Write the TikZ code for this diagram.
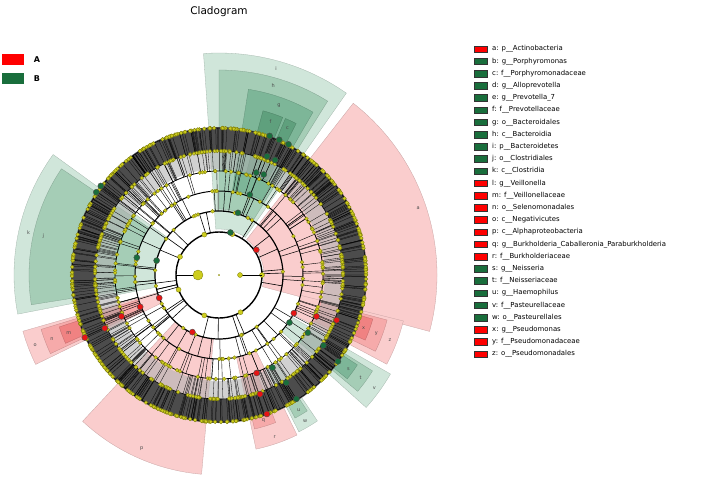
\documentclass[tikz,border=0pt]{standalone}
\usepackage{fontspec}
\setmainfont{DejaVu Sans}
\usetikzlibrary{calc}
\definecolor{pk1}{RGB}{250,205,205}
\definecolor{pk2}{RGB}{246,170,170}
\definecolor{pk3}{RGB}{240,130,130}
\definecolor{gn1}{RGB}{208,230,218}
\definecolor{gn2}{RGB}{165,205,182}
\definecolor{gn3}{RGB}{125,182,152}
\definecolor{gn4}{RGB}{95,160,125}
\definecolor{ylw}{RGB}{205,205,30}
\definecolor{olv}{RGB}{120,120,10}
\definecolor{rdn}{RGB}{230,20,20}
\definecolor{gnn}{RGB}{25,110,60}
\tikzset{
  ydot/.style={circle,fill=ylw,draw=olv,line width=0.3pt,inner sep=0pt,minimum size=3.8pt},
  rdot/.style={circle,fill=rdn,draw=black!70,line width=0.4pt,inner sep=0pt,minimum size=6pt},
  gdot/.style={circle,fill=gnn,draw=black!70,line width=0.4pt,inner sep=0pt,minimum size=6pt},
  slab/.style={font=\fontsize{5}{5}\selectfont,text=black!70,inner sep=0pt},
  leg/.style={font=\fontsize{6.9}{8}\selectfont,anchor=west,inner sep=0pt},
  legbox/.style={draw=black!80,line width=0.3pt,minimum width=13pt,minimum height=6.5pt,inner sep=0pt}
}
\newcommand\sect[7]{%
  \filldraw[#5,draw=#5!80!black,line width=0.3pt] ($(C)+(#1:#3)$) arc[start angle=#1,end angle=#2,radius=#3] -- ($(C)+(#2:#4)$) arc[start angle=#2,end angle=#1,radius=#4] -- cycle;
  \node[slab] (lab#6) at ($(C)+({(#1+#2)/2}:#4-#7)$) {#6};}
\newcommand\legitem[3]{\node[legbox,fill=#3] (b#1) at (481,{-49-12.2*#1}) {};
  \node[leg] (t#1) at (492,{-49-12.2*#1}) {#2};}
\begin{document}
\begin{tikzpicture}[x=1pt,y=1pt]
\useasboundingbox (0,0) rectangle (708,-479);
\coordinate (C) at (219,-275);
\node[font=\fontsize{10.5}{12}\selectfont] (title) at (219,-12) {Cladogram};
% group legend
\fill[red] (2,-54) rectangle (24,-65);
\fill[gnn] (2,-73) rectangle (24,-84);
\node[font=\bfseries\fontsize{8}{9}\selectfont] (lA) at (37,-60) {A};
\node[font=\bfseries\fontsize{8}{9}\selectfont] (lB) at (37,-79) {B};
% sectors
\sect{-15}{52}{45}{218}{pk1}{a}{8}
\sect{55}{94}{46}{222}{gn1}{i}{8}
\sect{58}{90}{66}{205}{gn2}{h}{8}
\sect{60}{81}{86}{188}{gn3}{g}{8}
\sect{68}{75}{106}{170}{gn4}{f}{8}
\sect{63}{67}{106}{170}{gn4}{c}{8}
\sect{144}{191}{64}{205}{gn1}{k}{10}
\sect{146}{189}{84}{190}{gn2}{j}{10}
\sect{196}{206}{64}{204}{pk1}{o}{7}
\sect{197}{205}{84}{186}{pk2}{n}{7}
\sect{198}{204}{104}{168}{pk3}{m}{7}
\sect{227}{265}{64}{200}{pk1}{p}{10}
\sect{282}{296}{84}{178}{pk1}{r}{7}
\sect{283}{291}{104}{158}{pk2}{q}{6}
\sect{297}{304}{104}{176}{gn1}{w}{6}
\sect{298}{303}{124}{162}{gn2}{u}{5}
\sect{318}{330}{84}{198}{gn1}{v}{6}
\sect{320}{328}{104}{181}{gn2}{t}{6}
\sect{321}{327}{124}{165}{gn3}{s}{5}
\sect{332}{346}{84}{190}{pk1}{z}{7}
\sect{334}{345}{104}{174}{pk2}{y}{6}
\sect{336}{344}{124}{160}{pk3}{x}{6}
% tree body
\fill[black!70,even odd rule] (C) circle[radius=148] (C) circle[radius=124];
\fill[black!30,opacity=0.6,even odd rule] (C) circle[radius=124] (C) circle[radius=106];
\pgfmathsetseed{7}
\foreach \n/\ra/\rb/\lw in {500/124/147/0.25,320/104/124/0.3,110/84/104/0.4,50/64/84/0.5,22/43/64/0.6}{
  \foreach \i in {1,...,\n}{
    \pgfmathsetmacro\ang{360*rnd}
    \draw[line width=\lw pt,black] ($(C)+(\ang:\ra)$) -- ($(C)+(\ang:\rb)$);
  }
}
\foreach \r/\w in {43/1.4,64/1.2,84/1.0,104/0.8,124/0.6,147/0.5}{
  \draw[line width=\w pt] (C) circle[radius=\r];
}
\pgfmathsetseed{11}
\foreach \n/\r in {420/147,260/124,110/104,45/84,20/64}{
  \foreach \i in {1,...,\n}{
    \pgfmathsetmacro\ang{360*rnd}
    \node[ydot] at ($(C)+(\ang:\r)$) {};
  }
}
\foreach \ang in {0,72,110,155,200,250,300}{\node[ydot,minimum size=5pt] at ($(C)+(\ang:43)$) {};}
% centre
\draw[line width=0.6pt] ($(C)+(-43,0)$) -- ($(C)+(-21,0)$);
\draw[line width=0.6pt] ($(C)+(21,0)$) -- ($(C)+(43,0)$);
\node[ydot,minimum size=10pt] (c1) at ($(C)+(-21,0)$) {};
\node[ydot,minimum size=5pt] (c2) at ($(C)+(21,0)$) {};
\node[ydot,minimum size=1.5pt] (c0) at (C) {};
% highlighted nodes
\foreach \ang/\r in {34/45,201/64,202/85,203/106,205/126,205/148,245/63,291/105,289/126,289/147,333/84,337/106,339/126}{
  \node[rdot] at ($(C)+(\ang:\r)$) {};}
\foreach \ang/\r in {75/44,73/65,69/86,70/109,66/110,68/128,64/128,70/148,66/148,62/148,167/64,168/84,143/148,146/148,300/107,302/127,302/146,326/85,327/106,326/126,324/147}{
  \node[gdot] at ($(C)+(\ang:\r)$) {};}
% legend
\legitem{0}{a: p\_\_Actinobacteria}{red}
\legitem{1}{b: g\_\_Porphyromonas}{gnn}
\legitem{2}{c: f\_\_Porphyromonadaceae}{gnn}
\legitem{3}{d: g\_\_Alloprevotella}{gnn}
\legitem{4}{e: g\_\_Prevotella\_7}{gnn}
\legitem{5}{f: f\_\_Prevotellaceae}{gnn}
\legitem{6}{g: o\_\_Bacteroidales}{gnn}
\legitem{7}{h: c\_\_Bacteroidia}{gnn}
\legitem{8}{i: p\_\_Bacteroidetes}{gnn}
\legitem{9}{j: o\_\_Clostridiales}{gnn}
\legitem{10}{k: c\_\_Clostridia}{gnn}
\legitem{11}{l: g\_\_Veillonella}{red}
\legitem{12}{m: f\_\_Veillonellaceae}{red}
\legitem{13}{n: o\_\_Selenomonadales}{red}
\legitem{14}{o: c\_\_Negativicutes}{red}
\legitem{15}{p: c\_\_Alphaproteobacteria}{red}
\legitem{16}{q: g\_\_Burkholderia\_Caballeronia\_Paraburkholderia}{red}
\legitem{17}{r: f\_\_Burkholderiaceae}{red}
\legitem{18}{s: g\_\_Neisseria}{gnn}
\legitem{19}{t: f\_\_Neisseriaceae}{gnn}
\legitem{20}{u: g\_\_Haemophilus}{gnn}
\legitem{21}{v: f\_\_Pasteurellaceae}{gnn}
\legitem{22}{w: o\_\_Pasteurellales}{gnn}
\legitem{23}{x: g\_\_Pseudomonas}{red}
\legitem{24}{y: f\_\_Pseudomonadaceae}{red}
\legitem{25}{z: o\_\_Pseudomonadales}{red}
\end{tikzpicture}
\end{document}
